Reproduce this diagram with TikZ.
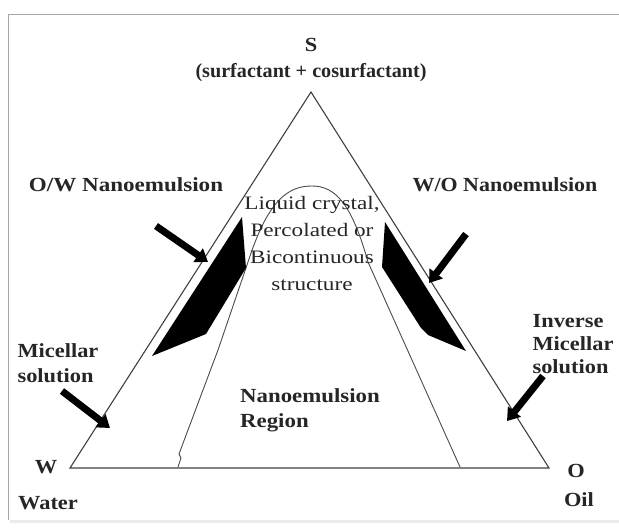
\documentclass[tikz,border=0pt]{standalone}
\usepackage{fontspec}
\setmainfont{Liberation Serif}
\usetikzlibrary{arrows.meta}
\begin{document}
\begin{tikzpicture}[x=1pt,y=-1pt,
  lbl/.style={font=\bfseries\fontsize{20}{23}\selectfont, inner sep=0pt, text=black!85, xscale=1.12},
  lblc/.style={font=\fontsize{19}{27}\selectfont, inner sep=0pt, align=center, text=black!85, xscale=1.22},
  blk/.style={line width=7pt, black, -{Triangle[width=16pt,length=12pt]}},
  edge/.style={draw=black!75, line width=1.1pt},
  inner/.style={draw=black!70, line width=0.9pt}]
\useasboundingbox (0,0) rectangle (619,532);
\fill[white] (0,0) rectangle (619,532);
% frame with shadow
\fill[black!8] (10,16) rectangle (625,523);
\fill[white] (8,14) rectangle (625,520);
\draw[black!35, line width=0.8pt] (8,520) -- (8,14) -- (625,14);
% triangle corners
\coordinate (S) at (311,92);
\coordinate (W) at (70,468);
\coordinate (O) at (549,468);
\draw[edge, line join=miter] (W) -- (S) -- (O) -- cycle;
% inner arch
\coordinate (a1) at (178,467);
\coordinate (a2) at (248,262);
\coordinate (a3) at (312,186);
\coordinate (a4) at (368,262);
\coordinate (a5) at (460,467);
\draw[inner] (a1) -- (181,458) -- (179,454) -- (218,350) -- (a2)
  .. controls (268,200) and (288,186) .. (a3)
  .. controls (336,186) and (352,205) .. (a4) -- (a5);
% black regions
\fill[black] (242,217) -- (246,268) -- (206,334) -- (152,356) -- cycle;
\fill[black] (385,222) -- (382,267) -- (421,328) -- (428,335) -- (466,351) -- cycle;
% arrows
\coordinate (ow1) at (156,226);
\coordinate (ow2) at (208,262);
\coordinate (wo1) at (466,234);
\coordinate (wo2) at (429,283);
\coordinate (mi1) at (62,391);
\coordinate (mi2) at (110,428);
\coordinate (im1) at (543,376);
\coordinate (im2) at (507,421);
\draw[blk] (ow1) -- (ow2);
\draw[blk] (wo1) -- (wo2);
\draw[blk] (mi1) -- (mi2);
\draw[blk] (im1) -- (im2);
% labels
\node[lbl] (sl) at (311,45) {S};
\node[lbl, xscale=0.9] (sc) at (311,73) {(surfactant + cosurfactant)};
\node[lbl, xscale=1.03] (owl) at (126,185) {O/W Nanoemulsion};
\node[lbl, xscale=0.98] (wol) at (505,185) {W/O Nanoemulsion};
\node[lblc] (lc) at (312,244) {Liquid crystal,\\Percolated or\\Bicontinuous\\structure};
\node[lbl, align=left, font=\bfseries\fontsize{20}{25}\selectfont, xscale=1.02] (nr) at (310,410) {Nanoemulsion\\Region};
\node[lbl, align=left, font=\bfseries\fontsize{20}{25}\selectfont] (ms) at (58,363) {Micellar\\solution};
\node[lbl, align=left, font=\bfseries\fontsize{20}{23}\selectfont] (ims) at (573,344) {Inverse\\Micellar\\solution};
\node[lbl] (wl) at (46,467) {W};
\node[lbl] (wat) at (48,503) {Water};
\node[lbl] (ol) at (576,471) {O};
\node[lbl] (oil) at (579,500) {Oil};
\end{tikzpicture}
\end{document}
